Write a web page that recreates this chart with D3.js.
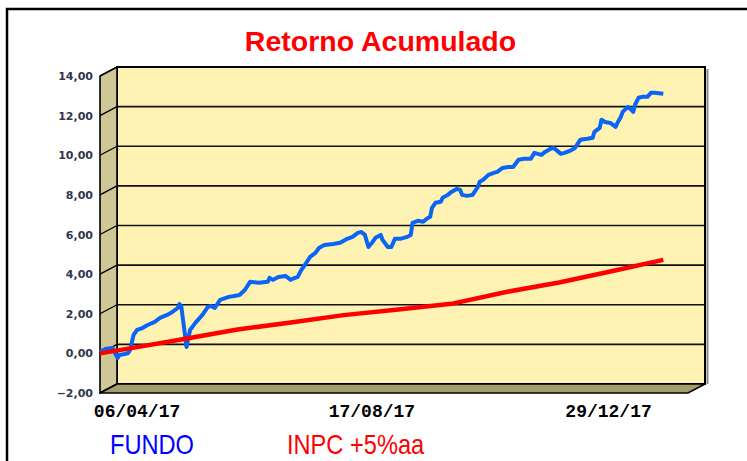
<!DOCTYPE html>
<html><head><meta charset="utf-8">
<script src="https://cdn.jsdelivr.net/npm/d3@7"></script>
<style>body{margin:0;background:#fff}svg{display:block}</style>
</head><body>
<svg id="c" width="747" height="461"></svg>
<script>
const chartTitle = "Retorno Acumulado";
const yTicks = [-2, 0, 2, 4, 6, 8, 10, 12, 14];
const xTickDates = ["2017-04-06", "2017-08-17", "2017-12-29"];
const seriesNames = ["FUNDO", "INPC +5%aa"];

const fundoDates = ["2017-03-16","2017-03-19","2017-03-23","2017-03-26","2017-03-27","2017-03-30","2017-04-01","2017-04-02","2017-04-04","2017-04-06",
"2017-04-09","2017-04-12","2017-04-16","2017-04-19","2017-04-23","2017-04-26","2017-04-29","2017-04-30","2017-05-01","2017-05-04",
"2017-05-06","2017-05-09","2017-05-13","2017-05-16","2017-05-18","2017-05-20","2017-05-23","2017-05-28","2017-05-31","2017-06-03",
"2017-06-06","2017-06-09","2017-06-14","2017-06-19","2017-06-20","2017-06-22","2017-06-25","2017-06-29","2017-07-02","2017-07-03",
"2017-07-06","2017-07-08","2017-07-10","2017-07-13","2017-07-16","2017-07-18","2017-07-21","2017-07-26","2017-07-30","2017-08-03",
"2017-08-06","2017-08-09","2017-08-11","2017-08-13","2017-08-15","2017-08-17","2017-08-19","2017-08-22","2017-08-23","2017-08-26",
"2017-08-28","2017-08-30","2017-09-02","2017-09-06","2017-09-08","2017-09-09","2017-09-12","2017-09-15","2017-09-17","2017-09-19",
"2017-09-20","2017-09-22","2017-09-25","2017-09-26","2017-09-29","2017-10-01","2017-10-04","2017-10-06","2017-10-07","2017-10-10",
"2017-10-13","2017-10-16","2017-10-17","2017-10-19","2017-10-22","2017-10-25","2017-10-27","2017-10-30","2017-11-02","2017-11-05",
"2017-11-08","2017-11-11","2017-11-15","2017-11-17","2017-11-21","2017-11-23","2017-11-26","2017-11-28","2017-11-30","2017-12-02",
"2017-12-04","2017-12-07","2017-12-10","2017-12-13","2017-12-17","2017-12-20","2017-12-21","2017-12-24","2017-12-25","2017-12-27",
"2017-12-30","2018-01-02","2018-01-03","2018-01-05","2018-01-06","2018-01-09","2018-01-11","2018-01-12","2018-01-13","2018-01-15",
"2018-01-17","2018-01-20","2018-01-22","2018-01-24","2018-01-29"];
const fundoValues = [0.07,0.22,0.27,-0.23,-0.08,-0.03,0.02,0.17,0.93,1.18,
1.28,1.43,1.59,1.79,1.94,2.09,2.29,2.49,2.39,0.32,
1.18,1.54,1.94,2.34,2.39,2.29,2.70,2.85,2.90,2.95,
3.20,3.61,3.56,3.61,3.81,3.71,3.86,3.91,3.71,3.76,
3.86,4.21,4.46,4.87,5.07,5.32,5.47,5.52,5.58,5.78,
5.88,6.08,6.13,5.98,5.37,5.58,5.83,5.98,5.73,5.37,
5.37,5.78,5.78,5.88,5.98,6.59,6.69,6.64,6.79,6.89,
7.34,7.60,7.65,7.85,8.00,8.15,8.30,8.25,8.00,7.95,
8.00,8.40,8.66,8.76,9.01,9.11,9.16,9.36,9.41,9.41,
9.77,9.82,9.82,10.12,10.02,10.17,10.32,10.37,10.22,10.07,
10.12,10.22,10.37,10.78,10.83,10.88,11.18,11.38,11.79,11.68,
11.63,11.43,11.63,11.94,12.19,12.44,12.29,12.19,12.55,12.90,
12.95,12.95,13.15,13.15,13.10];

const inpcDates = ["2017-03-16","2017-04-01","2017-05-01","2017-06-01","2017-07-01","2017-08-01","2017-09-01","2017-10-01","2017-11-01","2017-12-01","2018-01-01","2018-01-29"];
const inpcValues = [0.00,0.24,0.70,1.19,1.55,1.93,2.22,2.50,3.10,3.58,4.17,4.72];

const parse = d3.utcParse("%Y-%m-%d");
const fmtDate = d3.utcFormat("%d/%m/%y");
const fmtVal = v => d3.format(".2f")(v).replace(".", ",");

const svg = d3.select("#c");
const DX = 17, DY = -9;          // 3D depth offset (front -> back)
const x = d3.scaleUtc().domain([parse("2017-03-16"), parse("2018-02-12")]).range([100, 688]);
const y = d3.scaleLinear().domain([-2, 14]).range([393, 76]);
const x0 = x.range()[0], x1 = x.range()[1];
const yTop = y(14), yBot = y(-2);

// outer frame
svg.append("path").attr("d", `M7,461 V9 H747`).attr("fill", "none").attr("stroke", "#000").attr("stroke-width", 2.5);

// title
svg.append("text").attr("x", 380.5).attr("y", 51).attr("text-anchor", "middle")
  .attr("font-family", "Liberation Sans, Arial, sans-serif").attr("font-weight", "bold")
  .attr("font-size", 28.5).attr("fill", "#ff0000").text(chartTitle);

// back wall
svg.append("rect").attr("x", x0 + DX).attr("y", yTop + DY).attr("width", x1 - x0).attr("height", yBot - yTop)
  .attr("fill", "#fff3b3").attr("stroke", "#000").attr("stroke-width", 2);
svg.append("line").attr("x1", x1 + DX + 2.5).attr("x2", x1 + DX + 2.5).attr("y1", yTop + DY + 2).attr("y2", yBot + DY)
  .attr("stroke", "#8a8a8a").attr("stroke-width", 2);

// gridlines on back wall
svg.append("g").selectAll("line").data(yTicks.filter(t => t > -2 && t < 14)).join("line")
  .attr("x1", x0 + DX).attr("x2", x1 + DX).attr("y1", d => y(d) + DY).attr("y2", d => y(d) + DY)
  .attr("stroke", "#111").attr("stroke-width", 1.6);

// left side wall
svg.append("path").attr("d", `M${x0},${yTop} L${x0 + DX},${yTop + DY} L${x0 + DX},${yBot + DY} L${x0},${yBot} Z`)
  .attr("fill", "#cfc795").attr("stroke", "#000").attr("stroke-width", 1.6);
// floor
svg.append("path").attr("d", `M${x0},${yBot} L${x0 + DX},${yBot + DY} L${x1 + DX},${yBot + DY} L${x1},${yBot} Z`)
  .attr("fill", "#a39c6c").attr("stroke", "#000").attr("stroke-width", 1.6);

// slanted ticks on the side wall
svg.append("g").selectAll("line").data(yTicks).join("line")
  .attr("x1", x0).attr("x2", x0 + DX).attr("y1", d => y(d)).attr("y2", d => y(d) + DY)
  .attr("stroke", "#000").attr("stroke-width", 1.4);

// y labels
svg.append("g").selectAll("text").data(yTicks).join("text")
  .attr("x", 93).attr("y", d => y(d) + 4).attr("text-anchor", "end")
  .attr("font-family", "DejaVu Sans, Verdana, sans-serif").attr("font-size", 11).attr("font-weight", "bold")
  .attr("fill", "#33334d").text(fmtVal);

// x labels
svg.append("g").selectAll("text").data(xTickDates).join("text")
  .attr("x", d => x(parse(d))).attr("y", 417).attr("text-anchor", "middle")
  .attr("font-family", "Liberation Mono, Courier New, monospace").attr("font-weight", "bold")
  .attr("font-size", 18).attr("fill", "#000").text(d => fmtDate(parse(d)));

// series
const line = d3.line().x(d => x(d[0])).y(d => y(d[1]));
const fundo = fundoDates.map((d, i) => [parse(d), fundoValues[i]]);
const inpc = inpcDates.map((d, i) => [parse(d), inpcValues[i]]);
svg.append("path").datum(fundo).attr("d", line).attr("fill", "none")
  .attr("stroke", "#0a64f5").attr("stroke-width", 4).attr("stroke-linejoin", "round");
svg.append("path").datum(inpc).attr("d", line).attr("fill", "none")
  .attr("stroke", "#ff0000").attr("stroke-width", 4.5).attr("stroke-linejoin", "round");

// legend
const legendColors = ["#0000ff", "#ff0000"];
const legendX = [110, 287];
seriesNames.forEach((n, i) => {
  svg.append("text").attr("transform", `translate(${legendX[i]},454) scale(0.875,1)`)
    .attr("font-family", "Liberation Sans, Arial, sans-serif").attr("font-size", 27)
    .attr("fill", legendColors[i]).text(n);
});
</script>
</body></html>
